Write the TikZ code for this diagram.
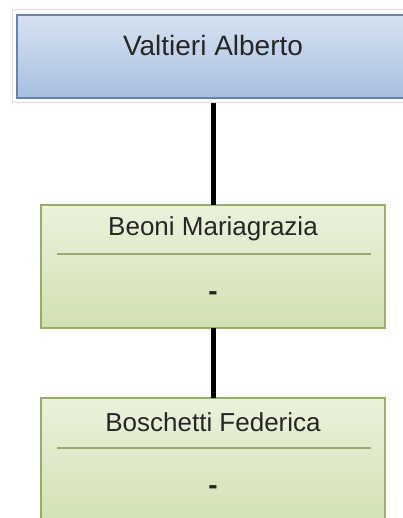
\documentclass[tikz,border=0pt]{standalone}
\usepackage{fontspec}
\setmainfont{Liberation Sans}
\definecolor{bluetop}{HTML}{D6E2F2}
\definecolor{bluebot}{HTML}{A8BFDF}
\definecolor{blueedge}{HTML}{6483AE}
\definecolor{greentop}{HTML}{EBF1DC}
\definecolor{greenbot}{HTML}{D2E1B2}
\definecolor{greenedge}{HTML}{97AE68}
\definecolor{outeredge}{HTML}{DCDCDC}
\tikzset{
  bluebox/.style={draw=blueedge, line width=1.2pt, top color=bluetop, bottom color=bluebot},
  greenbox/.style={draw=greenedge, line width=1.5pt, top color=greentop, bottom color=greenbot},
  divider/.style={draw=greenedge, line width=1.5pt},
  connector/.style={draw=black, line width=5pt},
  nametext/.style={font=\fontsize{26}{30}\selectfont, text=black!85},
  dashtext/.style={font=\bfseries\fontsize{28}{30}\selectfont, text=black!85},
  bigtext/.style={font=\fontsize{28}{32}\selectfont, text=black!85},
}
\begin{document}
\begin{tikzpicture}[x=1pt,y=-1pt]
\useasboundingbox (0,0) rectangle (402,518);
% top box
\draw[outeredge, line width=1pt, fill=white] (12,10) rectangle (420,103);
\path[bluebox] (17,15) rectangle (420,98);
\node[bigtext] (top) at (213,45) {Valtieri Alberto};
\coordinate (topb) at (213,103);
% box 2
\path[greenbox] (41,205) rectangle (385,328);
\node[nametext] (n2) at (213,229) {Beoni Mariagrazia};
\draw[divider] (57,254) -- (371,254);
\node[dashtext] (d2) at (213,296) {-};
\coordinate (b2t) at (213,205);
\coordinate (b2b) at (213,328);
% box 3
\path[greenbox] (41,398) rectangle (385,530);
\node[nametext] (n3) at (213,422) {Boschetti Federica};
\draw[divider] (57,448) -- (371,448);
\node[dashtext] (d3) at (213,490) {-};
\coordinate (b3t) at (213,398);
% connectors
\draw[connector] (topb) -- (b2t);
\draw[connector] (b2b) -- (b3t);
\end{tikzpicture}
\end{document}
